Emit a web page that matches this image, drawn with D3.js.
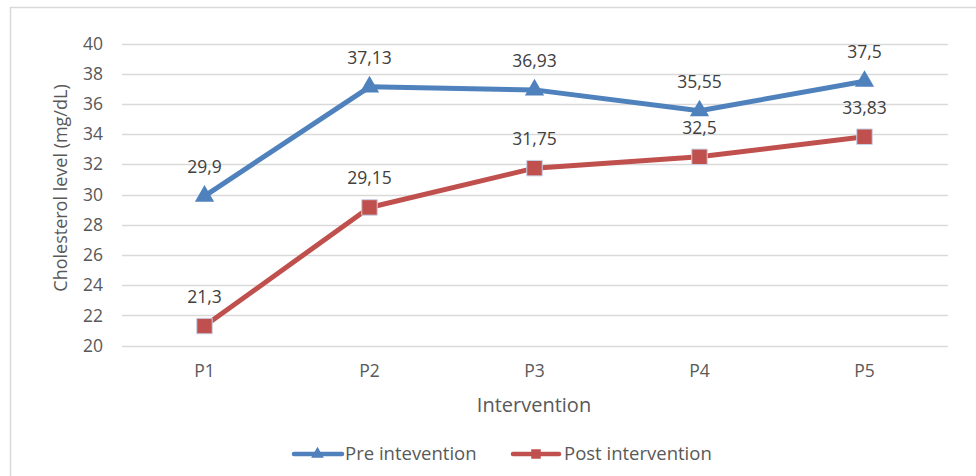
<!DOCTYPE html>
<html><head><meta charset="utf-8">
<script src="https://cdn.jsdelivr.net/npm/d3@7"></script>
<style>body{margin:0;background:#fff}svg{display:block}text{font-family:"Open Sans",sans-serif}</style>
</head><body><svg id="c" width="976" height="476"></svg>
<script>
const categories = ["P1","P2","P3","P4","P5"];
const preValues = [29.9, 37.13, 36.93, 35.55, 37.5];
const postValues = [21.3, 29.15, 31.75, 32.5, 33.83];
const preLabels = ["29,9","37,13","36,93","35,55","37,5"];
const postLabels = ["21,3","29,15","31,75","32,5","33,83"];
const yTicks = [20,22,24,26,28,30,32,34,36,38,40];
const seriesNames = ["Pre intevention","Post intervention"];

const svg = d3.select("#c");
svg.append("rect").attr("x",10.5).attr("y",7.5).attr("width",980).attr("height",480)
  .attr("fill","#fff").attr("stroke","#d9d9d9").attr("stroke-width",1.5);

const x = d3.scaleBand().domain(categories).range([122,947]);
const y = d3.scaleLinear().domain([20,40]).range([345.7,43.5]);

const grid = svg.append("g");
yTicks.forEach(t=>{
  grid.append("line").attr("x1",122).attr("x2",948).attr("y1",Math.round(y(t))+0.5).attr("y2",Math.round(y(t))+0.5)
    .attr("stroke","#d9d9d9").attr("stroke-width",1.3);
});
const yAxis = d3.axisLeft(y).tickValues(yTicks).tickSize(0).tickPadding(19);
svg.append("g").attr("transform","translate(122,0)").call(yAxis)
  .call(g=>g.select(".domain").remove())
  .selectAll("text").attr("font-size",17.5).attr("fill","#595959").style("font-family","'Open Sans',sans-serif");

const xAxis = d3.axisBottom(x).tickSize(0).tickPadding(19);
svg.append("g").attr("transform","translate(0,346)").call(xAxis)
  .call(g=>g.select(".domain").remove())
  .selectAll("text").attr("font-size",17.5).attr("fill","#595959").style("font-family","'Open Sans',sans-serif");

svg.append("text").attr("transform","translate(67,188) rotate(-90)").attr("text-anchor","middle")
  .attr("font-size",18).attr("fill","#595959").text("Cholesterol level (mg/dL)");
svg.append("text").attr("x",534).attr("y",412).attr("text-anchor","middle")
  .attr("font-size",20).attr("fill","#595959").text("Intervention");

const cx = d=>x(d)+x.bandwidth()/2;
const line = d3.line().x((d,i)=>cx(categories[i])).y(d=>y(d));
const blue="#4F81BD", red="#C0504D";
svg.append("path").datum(preValues).attr("d",line).attr("fill","none").attr("stroke",blue).attr("stroke-width",5).attr("stroke-linejoin","round");
svg.append("path").datum(postValues).attr("d",line).attr("fill","none").attr("stroke",red).attr("stroke-width",5).attr("stroke-linejoin","round");

const tri = d3.symbol().type(d3.symbolTriangle).size(160);
const sq = d3.symbol().type(d3.symbolSquare).size(240);
svg.append("g").selectAll("path").data(preValues).join("path")
  .attr("transform",(d,i)=>`translate(${cx(categories[i])},${y(d)})`).attr("d",tri).attr("fill",blue);
svg.append("g").selectAll("path").data(postValues).join("path")
  .attr("transform",(d,i)=>`translate(${cx(categories[i])},${y(d)})`).attr("d",sq).attr("fill",red).attr("stroke","#c6d3e8").attr("stroke-width",1);

svg.append("g").selectAll("text").data(preValues).join("text")
  .attr("x",(d,i)=>cx(categories[i])).attr("y",d=>y(d)-23).attr("text-anchor","middle")
  .attr("font-size",17.5).attr("fill","#404040").text((d,i)=>preLabels[i]);
svg.append("g").selectAll("text").data(postValues).join("text")
  .attr("x",(d,i)=>cx(categories[i])).attr("y",d=>y(d)-23).attr("text-anchor","middle")
  .attr("font-size",17.5).attr("fill","#404040").text((d,i)=>postLabels[i]);

// legend
const lg = svg.append("g");
lg.append("line").attr("x1",294).attr("x2",342).attr("y1",454).attr("y2",454).attr("stroke",blue).attr("stroke-width",4.5).attr("stroke-linecap","round");
lg.append("path").attr("transform","translate(317.5,454)").attr("d",d3.symbol().type(d3.symbolTriangle).size(70)).attr("fill",blue);
lg.append("text").attr("x",345).attr("y",460).attr("font-size",18.5).attr("fill","#595959").text(seriesNames[0]);
lg.append("line").attr("x1",513).attr("x2",559).attr("y1",454).attr("y2",454).attr("stroke",red).attr("stroke-width",4.5).attr("stroke-linecap","round");
lg.append("path").attr("transform","translate(536,454)").attr("d",d3.symbol().type(d3.symbolSquare).size(90)).attr("fill",red);
lg.append("text").attr("x",564).attr("y",460).attr("font-size",18.5).attr("fill","#595959").text(seriesNames[1]);
</script></body></html>
